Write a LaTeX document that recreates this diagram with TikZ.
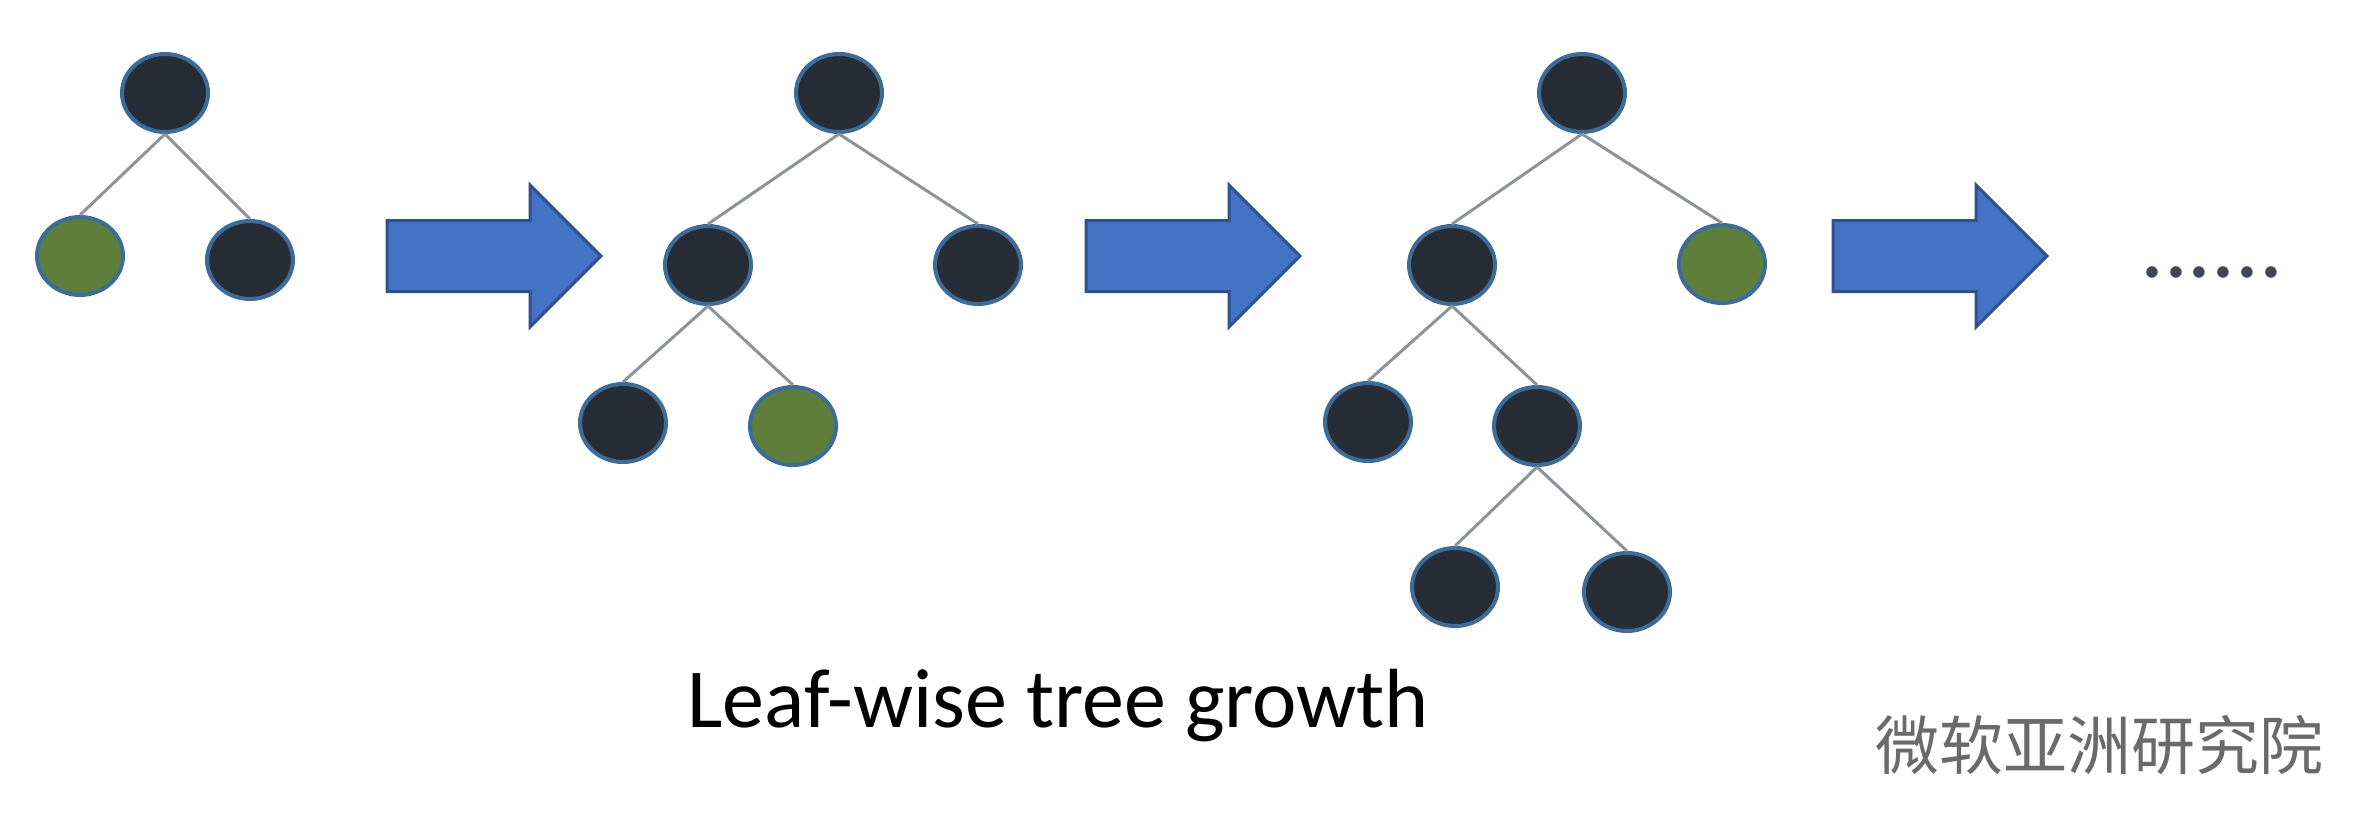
\documentclass[tikz,border=0pt]{standalone}
\usepackage{fontspec}
\setmainfont{Carlito}
\newfontfamily\cjkwm{Noto Sans CJK SC}
\usetikzlibrary{shapes.geometric}
\definecolor{nodefill}{HTML}{262D37}
\definecolor{nodeline}{HTML}{3E6C98}
\definecolor{leafc}{HTML}{5E7F3C}
\definecolor{edgec}{HTML}{8E9399}
\definecolor{arrfill}{HTML}{4472C4}
\definecolor{arrline}{HTML}{2F528F}
\definecolor{dotc}{HTML}{3D4654}
\definecolor{wmc}{HTML}{6A6A6A}
\tikzset{
  tnode/.style={ellipse,draw=nodeline,line width=4pt,fill=nodefill,minimum width=86pt,minimum height=78pt,inner sep=0pt},
  leafnode/.style={tnode,fill=leafc},
  link/.style={draw=edgec,line width=3pt},
  bigarrow/.style={fill=arrfill,draw=arrline,line width=3pt,line join=miter},
  growarrow/.pic={\path[bigarrow] (0,-35.5) -- (143,-35.5) -- (143,-71) -- (214,0) -- (143,71) -- (143,35.5) -- (0,35.5) -- cycle;}
}
\begin{document}
\begin{tikzpicture}[x=1pt,y=-1pt]
\useasboundingbox (0,0) rectangle (2374,814);
\fill[white] (0,0) rectangle (2374,814);
% tree 1
\node[tnode] (a0) at (165,93) {};
\node[leafnode] (a1) at (80,256) {};
\node[tnode] (a2) at (250,260) {};
\draw[link] (a0.south) -- (a1.north);
\draw[link] (a0.south) -- (a2.north);
% arrow 1
\pic at (387,256) {growarrow};
% tree 2
\node[tnode] (b0) at (839,93) {};
\node[tnode] (b1) at (708,265) {};
\node[tnode] (b2) at (978,265) {};
\node[tnode] (b3) at (623,423) {};
\node[leafnode] (b4) at (793,426) {};
\draw[link] (b0.south) -- (b1.north);
\draw[link] (b0.south) -- (b2.north);
\draw[link] (b1.south) -- (b3.north);
\draw[link] (b1.south) -- (b4.north);
% arrow 2
\pic at (1086,256) {growarrow};
% tree 3
\node[tnode] (c0) at (1582,93) {};
\node[tnode] (c1) at (1452,265) {};
\node[leafnode] (c2) at (1722,264) {};
\node[tnode] (c3) at (1368,422) {};
\node[tnode] (c4) at (1537,426) {};
\node[tnode] (c5) at (1455,587) {};
\node[tnode] (c6) at (1627,592) {};
\draw[link] (c0.south) -- (c1.north);
\draw[link] (c0.south) -- (c2.north);
\draw[link] (c1.south) -- (c3.north);
\draw[link] (c1.south) -- (c4.north);
\draw[link] (c4.south) -- (c5.north);
\draw[link] (c4.south) -- (c6.north);
% arrow 3
\pic at (1833,256) {growarrow};
% continuation dots
\node[font=\fontsize{95}{110}\selectfont,text=dotc,inner sep=0pt] (more) at (2212,272) {......};
% caption
\node[anchor=base west,inner sep=0pt,font=\fontsize{84}{100}\selectfont] (label) at (687,727) {Leaf-wise tree growth};
% watermark
\node[font=\cjkwm\fontsize{64}{70}\selectfont,text=wmc,inner sep=0pt] (wm) at (2099,745) {微软亚洲研究院};
\end{tikzpicture}
\end{document}
